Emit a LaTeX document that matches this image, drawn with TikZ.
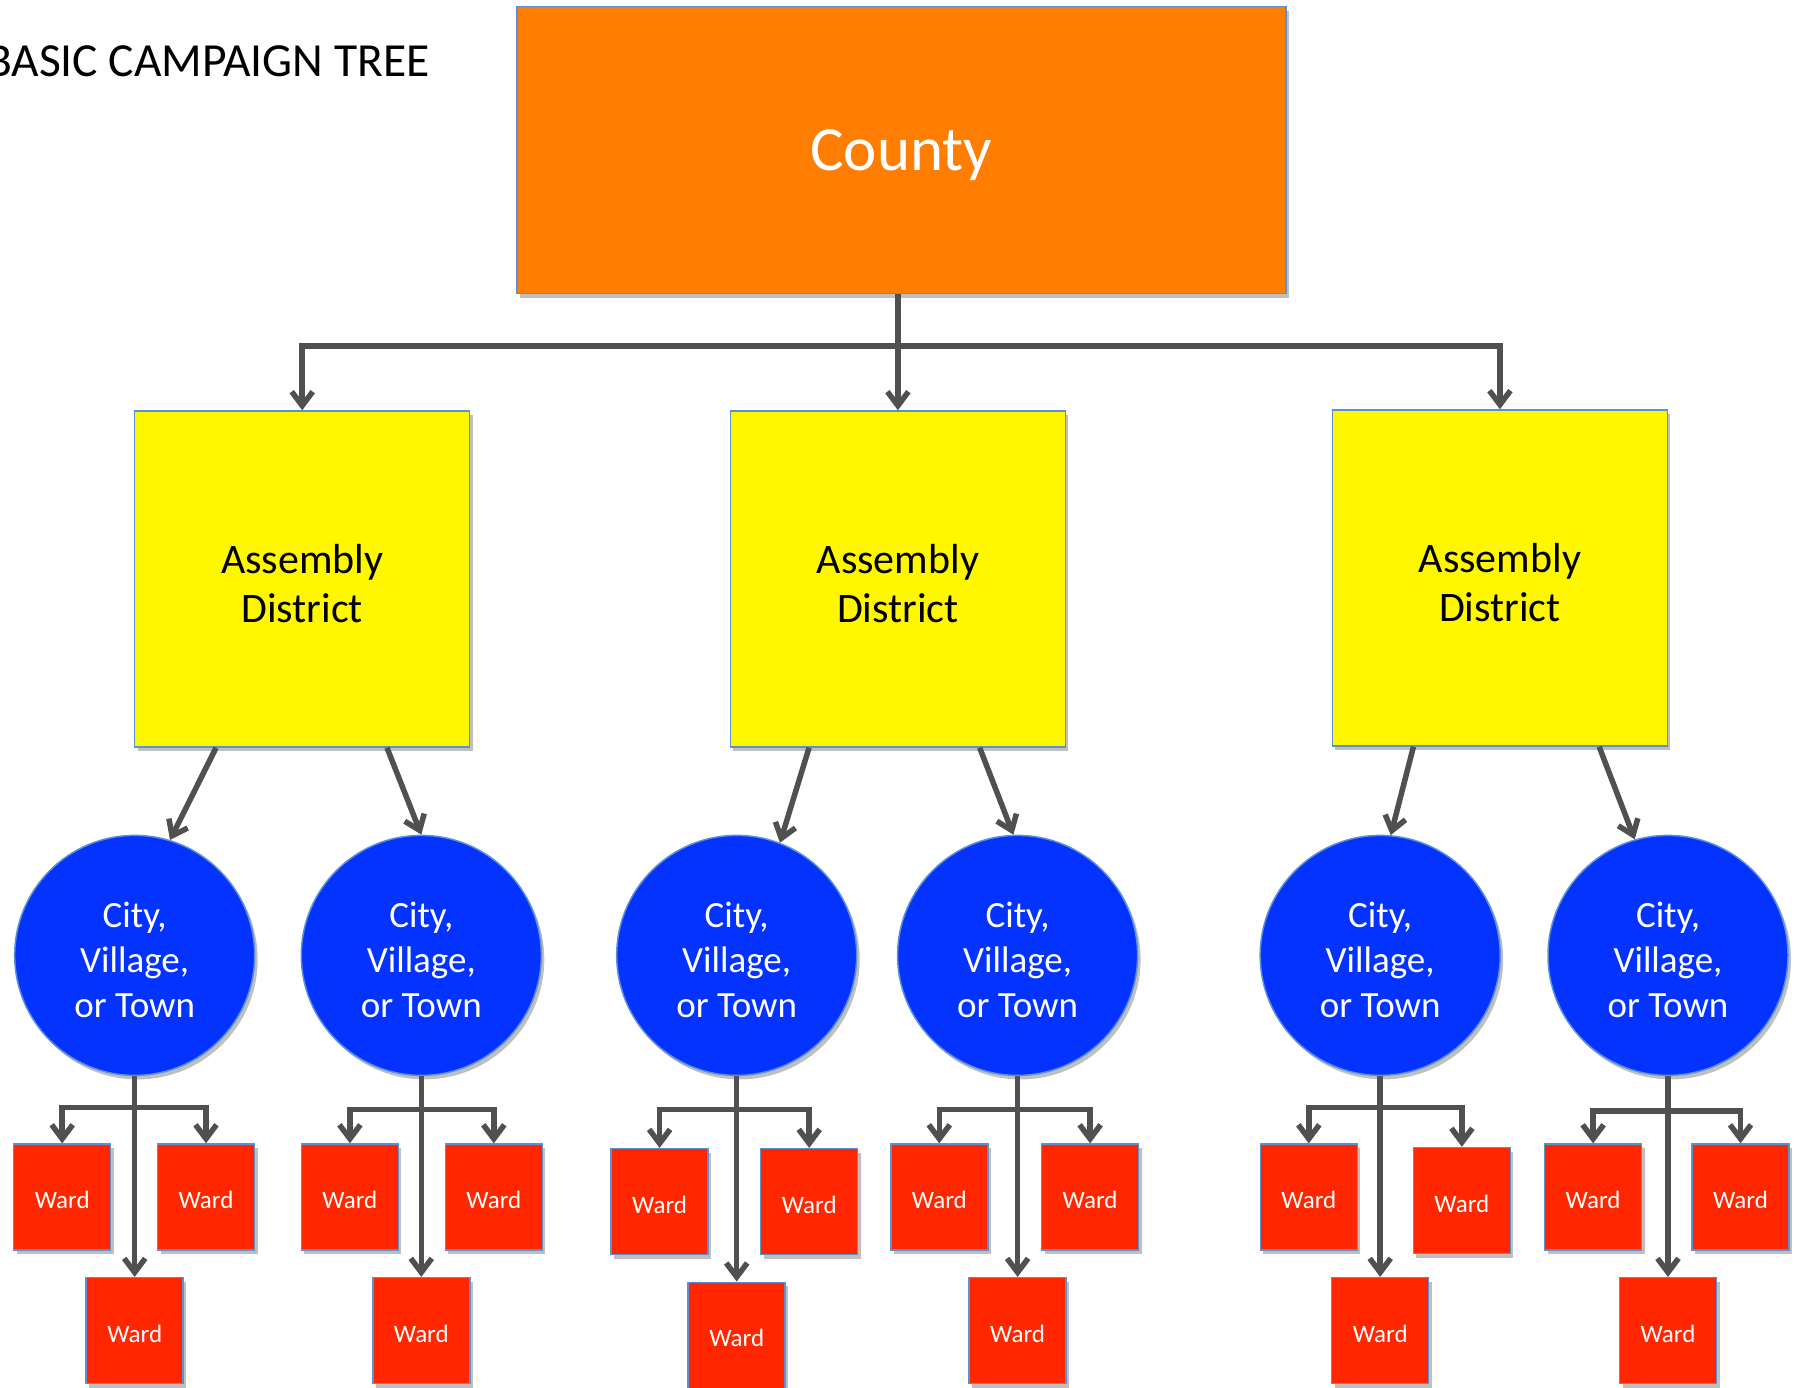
\documentclass[tikz,border=0pt]{standalone}
\usepackage{fontspec}
\setmainfont{Carlito}
\usetikzlibrary{arrows.meta,shadows,calc}
\definecolor{countyc}{RGB}{255,125,0}
\definecolor{adc}{RGB}{255,247,0}
\definecolor{cityc}{RGB}{4,51,255}
\definecolor{wardc}{RGB}{255,38,0}
\definecolor{edgec}{RGB}{91,145,210}
\definecolor{arrc}{RGB}{80,80,80}
\tikzset{
  shd/.style={drop shadow={shadow xshift=3pt,shadow yshift=-4pt,opacity=0.25,fill=black}},
  txt/.style={inner sep=0pt,align=center,yshift=-4.6pt},
  countybox/.style={rectangle,fill=countyc,draw=edgec,line width=1.5pt,minimum width=769pt,minimum height=287pt,inner sep=0pt,shd,
     label={[txt,text=white,font=\fontsize{63}{70}\selectfont]center:County}},
  adbox/.style={rectangle,fill=adc,draw=edgec,line width=1.5pt,minimum width=335pt,minimum height=336pt,inner sep=0pt,shd,
     label={[txt,font=\fontsize{42}{49.5}\selectfont]center:Assembly\\District}},
  citynode/.style={circle,fill=cityc,draw=edgec,line width=1.5pt,minimum size=240pt,inner sep=0pt,shd,
     label={[txt,text=white,font=\fontsize{37}{45}\selectfont]center:City,\\Village,\\or Town}},
  wardbox/.style={rectangle,fill=wardc,draw=edgec,line width=1.5pt,minimum width=97pt,minimum height=106pt,inner sep=0pt,shd,
     label={[txt,yshift=1.5pt,text=white,font=\fontsize{25}{30}\selectfont]center:Ward}},
  arr/.style={draw=arrc,line width=5.5pt,-{Straight Barb[length=14pt,width=21pt]}},
}
\begin{document}
\begin{tikzpicture}[x=1pt,y=-1pt]
\useasboundingbox (0,0) rectangle (1805,1388);
\fill[white] (0,0) rectangle (1805,1388);
\node[anchor=base east,font=\fontsize{47.5}{56}\selectfont] (title) at (433,77) {BASIC CAMPAIGN TREE};
\node[countybox] (county) at (901.3,150.2) {};
\node[adbox] (ad1) at (302.2,579) {};
\node[adbox] (ad2) at (897.9,579) {};
\node[adbox] (ad3) at (1499.9,578) {};
\coordinate (bus) at (897.9,346);
\draw[arr] (county.south -| ad2.north) -- (ad2.north);
\draw[arr] (bus) -| (ad1.north);
\draw[arr] (bus) -| (ad3.north);
% cities
\foreach \i/\x in {1/134.7,2/421.3,3/736.7,4/1017.6,5/1380.2,6/1668}{
  \node[citynode] (c\i) at (\x,955.4) {};
}
\draw[arr] ($(ad1.south west)!0.244!(ad1.south east)$) -- (c1.73);
\draw[arr] ($(ad1.south west)!0.752!(ad1.south east)$) -- (c2.north);
\draw[arr] ($(ad2.south west)!0.236!(ad2.south east)$) -- (c3.69);
\draw[arr] ($(ad2.south west)!0.743!(ad2.south east)$) -- (c4.92);
\draw[arr] ($(ad3.south west)!0.243!(ad3.south east)$) -- (c5.85);
\draw[arr] ($(ad3.south west)!0.795!(ad3.south east)$) -- (c6.106);
% wards
\foreach \i/\xl/\yl/\xr/\yr/\xb/\yb/\bar in {
  1/62.2/1197.1/206/1197.1/134.7/1330.7/1107.4,
  2/349.9/1197.1/493.8/1197.1/421.3/1330.7/1109.6,
  3/659.6/1201.7/809.2/1201.7/736.7/1335.3/1109.6,
  4/939.3/1197.1/1090.1/1197.1/1017.6/1330.7/1109.6,
  5/1308.8/1197.1/1461.9/1200.6/1380.2/1330.7/1107.4,
  6/1593.1/1197.1/1740.5/1197.1/1668/1330.7/1110.8}{
  \node[wardbox] (w\i l) at (\xl,\yl) {};
  \node[wardbox] (w\i r) at (\xr,\yr) {};
  \node[wardbox] (w\i b) at (\xb,\yb) {};
  \coordinate (b\i) at (\xb,\bar);
  \draw[arr] (b\i) -| (w\i l.north);
  \draw[arr] (b\i) -| (w\i r.north);
  \draw[arr] (c\i.south) -- (w\i b.north);
}
\end{tikzpicture}
\end{document}
